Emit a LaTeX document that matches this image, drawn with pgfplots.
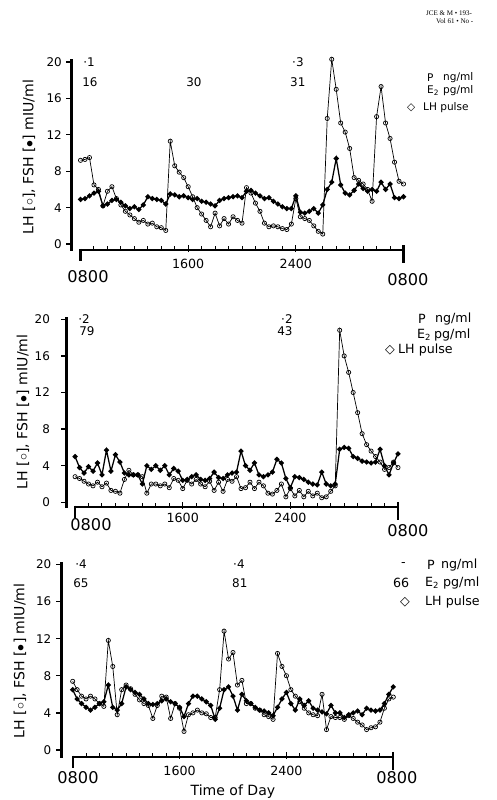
\documentclass[border=0pt]{standalone}
\usepackage{fontspec}
\setmainfont{DejaVu Sans}
\newfontfamily\serif{Liberation Serif}
\usepackage{pgfplots}
\usepackage{pgfplotstable}
\pgfplotsset{compat=1.18}

% t = minutes after 0800, LH and FSH in mIU/ml
\pgfplotstableread{
t lh fsh
0 9.2 4.9
20 9.3 5.0
40 9.5 5.3
60 6.5 5.6
80 6.0 5.8
100 4.2 4.2
120 5.8 4.4
140 6.3 4.8
160 5.0 4.9
180 4.3 4.6
200 3.6 4.2
220 3.2 3.9
240 2.8 4.1
260 2.4 3.8
280 2.6 4.3
300 2.2 5.2
320 2.3 5.0
340 1.9 4.9
360 1.8 4.8
380 1.5 4.4
400 11.3 5.5
420 8.6 5.4
440 7.9 5.2
460 7.3 5.3
480 6.3 5.1
500 5.2 4.9
520 4.0 5.0
540 3.3 4.7
560 2.6 4.6
580 1.9 4.4
600 3.4 4.2
620 2.0 4.8
640 2.8 5.0
660 2.2 5.1
680 3.0 5.2
700 2.6 5.3
720 2.3 5.1
740 6.2 5.8
760 5.6 5.9
780 4.5 5.6
800 3.6 5.3
820 2.3 5.0
840 1.9 5.1
860 2.0 4.7
880 1.9 4.4
900 1.7 4.1
920 1.6 3.9
940 2.2 3.9
960 5.0 5.3
980 3.0 3.5
1000 2.8 3.4
1020 2.6 3.6
1040 2.0 3.9
1060 1.4 3.4
1080 1.1 4.3
1100 13.8 6.0
1120 20.3 6.8
1140 17.0 9.4
1160 13.3 6.5
1180 12.3 5.6
1200 10.5 5.4
1220 7.3 5.9
1240 7.0 6.6
1260 6.6 6.1
1280 6.0 5.8
1300 4.7 6.0
1320 14.0 5.8
1340 17.3 6.8
1360 13.3 6.0
1380 11.6 6.6
1400 9.0 5.1
1420 6.9 5.0
1440 6.6 5.2
}\dataA

\pgfplotstableread{
t lh fsh
0 2.8 5.0
20 2.6 3.8
40 2.3 3.2
60 2.0 3.9
80 1.8 3.4
100 2.2 4.3
120 1.7 3.0
140 2.1 5.7
160 1.3 3.4
180 1.2 5.2
200 1.0 4.4
220 2.5 3.2
240 3.5 3.0
260 3.0 3.0
280 3.0 3.0
300 2.8 2.0
320 1.0 4.0
340 2.0 3.6
360 2.0 4.0
380 1.8 3.5
400 2.0 4.0
420 1.6 3.0
440 2.6 3.7
460 2.4 3.4
480 1.5 2.4
500 2.4 2.5
520 2.0 2.8
540 2.5 3.0
560 2.0 2.5
580 1.7 2.4
600 2.3 2.6
620 1.3 3.3
640 2.2 2.7
660 1.2 2.6
680 2.5 3.0
700 2.3 3.2
720 2.8 3.3
740 1.5 5.6
760 1.6 4.0
780 2.2 3.5
800 1.5 4.3
820 2.2 3.0
840 1.8 2.8
860 1.0 3.0
880 0.9 3.3
900 1.3 4.7
920 2.0 4.3
940 0.6 2.6
960 1.5 1.6
980 0.7 2.8
1000 1.3 2.7
1020 0.6 2.5
1040 1.2 2.2
1060 0.7 2.0
1080 1.0 1.9
1100 0.5 3.3
1120 0.6 2.0
1140 1.2 1.8
1160 1.8 2.0
1180 18.8 5.8
1200 16.0 6.0
1220 14.2 5.9
1240 12.0 5.0
1260 9.8 4.8
1280 7.5 4.5
1300 6.3 4.4
1320 5.6 4.3
1340 5.0 4.4
1360 4.4 5.8
1380 3.6 4.0
1400 3.8 3.0
1420 4.4 4.3
1440 3.8 5.3
}\dataB

\pgfplotstableread{
t lh fsh
0 7.4 6.5
20 6.5 5.5
40 5.8 5.0
60 5.5 4.6
80 5.8 4.3
100 5.5 4.6
120 5.0 5.0
140 4.7 5.2
160 11.8 7.0
180 9.0 4.6
200 3.8 4.3
220 6.5 5.0
240 7.0 6.8
260 6.6 6.5
280 6.0 6.2
300 5.4 6.0
320 5.0 5.5
340 4.8 5.0
360 3.4 4.9
380 4.8 5.0
400 5.8 5.3
420 5.7 5.5
440 3.4 5.2
460 5.0 5.0
480 4.5 4.6
500 2.0 3.6
520 3.8 5.0
540 4.0 5.8
560 4.3 5.8
580 4.0 5.5
600 3.9 5.2
620 3.5 4.8
640 3.5 3.3
660 6.5 4.5
680 12.8 6.5
700 9.8 6.8
720 10.5 5.8
740 7.0 4.3
760 7.5 6.0
780 5.0 5.3
800 5.0 5.0
820 4.5 4.6
840 4.3 4.3
860 3.8 4.2
880 3.6 4.0
900 3.3 3.7
920 10.4 4.6
940 9.0 5.5
960 8.0 6.2
980 6.5 5.0
1000 5.8 4.3
1020 5.2 5.5
1040 4.5 4.8
1060 4.0 5.3
1080 3.8 4.5
1100 3.7 4.3
1120 6.0 4.1
1140 2.2 3.9
1160 3.6 4.8
1180 3.5 4.0
1200 3.5 4.0
1220 3.3 3.5
1240 3.7 3.8
1260 3.4 4.0
1280 3.0 4.2
1300 2.7 3.8
1320 2.2 4.5
1340 2.4 4.3
1360 2.5 4.2
1380 3.0 4.3
1400 4.5 5.0
1420 5.5 6.0
1440 5.7 6.8
}\dataC

\pgfplotsset{
  panel/.style={
    scale only axis, anchor=south west, clip=false,
    xmax=1440, ymax=20,
    axis x line*=bottom, axis y line*=left,
    y axis line style={line width=1.6pt},
    major tick length=0pt, minor tick length=0pt,
    ytick={0,4,...,20},
    xtick={480,960}, xticklabels={1600,2400},
    /pgf/number format/assume math mode=true,
    yticklabel style={font=\fontsize{8.5}{10}\selectfont, anchor=east, inner sep=0pt},
    xticklabel style={font=\fontsize{9}{10}\selectfont, anchor=center, inner sep=0pt},
  },
  lh/.style={black, line width=0.5pt, mark=o, mark size=1.5pt,
    mark options={fill=white, line width=0.5pt}},
  fsh/.style={black, line width=0.9pt, mark=*, mark size=1.35pt},
}

% hand-drawn ticks: y ticks point left, hourly x ticks point up
\newcommand{\frameticks}[2]{% #1 = xmin, #2 = ymin
  \pgfplotsinvokeforeach{0,4,...,20}{\draw[line width=0.9pt] (axis cs:#1,##1) -- ++(-4pt,0pt);}
  \pgfplotsinvokeforeach{60,120,...,1380}{\draw[line width=0.7pt] (axis cs:##1,#2) -- ++(0pt,2.5pt);}
  \draw[line width=0.9pt] (axis cs:480,#2) ++(0pt,-1.5pt) -- ++(0pt,5pt);
  \draw[line width=0.9pt] (axis cs:960,#2) ++(0pt,-1.5pt) -- ++(0pt,5pt);
  \draw[line width=1.6pt] (axis cs:0,#2) ++(0pt,0.8pt) -- ++(0pt,-8.8pt);
  \draw[line width=1.6pt] (axis cs:1440,#2) ++(0pt,3.5pt) -- ++(0pt,-13pt);
}

\newcommand{\lhfsh}{LH [$\circ$], FSH [$\bullet$] mIU/ml}

\begin{document}
\begin{tikzpicture}
\path[use as bounding box] (0,0) rectangle (12.4,-20);

\begin{axis}[panel, at={(1.8cm,-6.25cm)}, width=8.2875cm, height=4.7cm,
  xmin=-38, ymin=-0.65,
  x axis line style={line width=1.6pt, shorten <=6.06pt},
  yticklabel style={xshift=-0.25cm}, xticklabel style={yshift=-0.35cm}]
\frameticks{-38}{-0.65}
\addplot[lh] table[x=t, y=lh] {\dataA};
\addplot[fsh] table[x=t, y=fsh] {\dataA};
\end{axis}

\begin{axis}[panel, at={(1.675cm,-12.6675cm)}, width=8.275cm, height=4.685cm,
  xmin=-36, ymin=-0.48,
  x axis line style={line width=1.6pt, shorten <=5.74pt},
  yticklabel style={xshift=-0.42cm}, xticklabel style={yshift=-0.28cm}]
\frameticks{-36}{-0.48}
\addplot[lh] table[x=t, y=lh] {\dataB};
\addplot[fsh] table[x=t, y=fsh] {\dataB};
\end{axis}

\begin{axis}[panel, at={(1.55cm,-18.9175cm)}, width=8.2825cm, height=4.81cm,
  xmin=-48, ymin=-0.72,
  x axis line style={line width=1.6pt, shorten <=7.6pt},
  yticklabel style={xshift=-0.26cm}, xticklabel style={yshift=-0.36cm}]
\frameticks{-48}{-0.72}
\addplot[lh] table[x=t, y=lh] {\dataC};
\addplot[fsh] table[x=t, y=fsh] {\dataC};
\end{axis}

% texts and the three y axis bars, in pixel units of the reference (y downwards)
\begin{scope}[x=0.025cm, y=-0.025cm, every node/.style={inner sep=0pt}]
\fill[black] (70.5,59) rectangle (73.5,251);
\fill[black] (65.5,317) rectangle (68.5,508);
\fill[black] (60.5,562) rectangle (63.5,758);

\node[anchor=west, font=\serif\fontsize{5}{6}\selectfont] at (426,13) {JCE \& M • 193-};
\node[anchor=west, font=\serif\fontsize{5}{6}\selectfont] at (436,21) {Vol 61 • No -};

% panel 1
\node[rotate=90, font=\fontsize{10}{12}\selectfont] at (29,157) {\lhfsh};
\node[font=\fontsize{11.5}{12}\selectfont] at (88,277) {0800};
\node[font=\fontsize{11.5}{12}\selectfont] at (408,280) {0800};
\begin{scope}[every node/.append style={font=\fontsize{8.5}{10}\selectfont}]
\node[anchor=west] at (83,62) {·1};
\node[anchor=west] at (82,82) {16};
\node at (194,82) {30};
\node[anchor=west] at (292,62) {·3};
\node[anchor=west] at (290,82) {31};
\end{scope}
\begin{scope}[every node/.append style={font=\fontsize{7.5}{9}\selectfont, anchor=west}]
\node at (427,78) {P};
\node at (443,78) {ng/ml};
\node at (427,91) {E\textsubscript{2}};
\node at (443,91) {pg/ml};
\node at (407,108) {◇};
\node at (423,108) {LH pulse};
\end{scope}

% panel 2
\node[rotate=90, font=\fontsize{10}{12}\selectfont] at (23,412) {\lhfsh};
\node[font=\fontsize{11.5}{12}\selectfont] at (91,525) {0800};
\node[font=\fontsize{11.5}{12}\selectfont] at (408,531) {0800};
\begin{scope}[every node/.append style={font=\fontsize{8.5}{10}\selectfont}]
\node[anchor=west] at (78,319) {·2};
\node[anchor=west] at (79,331) {79};
\node[anchor=west] at (281,319) {·2};
\node at (285,331) {43};
\end{scope}
\begin{scope}[every node/.append style={font=\fontsize{9}{10}\selectfont, anchor=west}]
\node at (418,319) {P};
\node at (435,319) {ng/ml};
\node at (417,335) {E\textsubscript{2}};
\node at (434,335) {pg/ml};
\node at (385,350) {◇};
\node at (398,350) {LH pulse};
\end{scope}

% panel 3
\node[rotate=90, font=\fontsize{10}{12}\selectfont] at (20,661) {\lhfsh};
\node[font=\fontsize{11.5}{12}\selectfont] at (78,777.5) {0800};
\node[font=\fontsize{11.5}{12}\selectfont] at (397,777.5) {0800};
\node[font=\fontsize{10}{12}\selectfont] at (233,792) {Time of Day};
\begin{scope}[every node/.append style={font=\fontsize{8.5}{10}\selectfont}]
\node[anchor=west] at (75,564) {·4};
\node[anchor=west] at (73,583) {65};
\node[anchor=west] at (233,564) {·4};
\node[anchor=west] at (232,583) {81};
\end{scope}
\begin{scope}[every node/.append style={font=\fontsize{9}{10}\selectfont, anchor=west}]
\node at (401,565) {-};
\node at (427,565) {P};
\node at (441,565) {ng/ml};
\node at (393,583) {66};
\node at (425,583) {E\textsubscript{2}};
\node at (443,583) {pg/ml};
\node at (400,602) {◇};
\node at (425,602) {LH pulse};
\end{scope}
\end{scope}
\end{tikzpicture}
\end{document}
